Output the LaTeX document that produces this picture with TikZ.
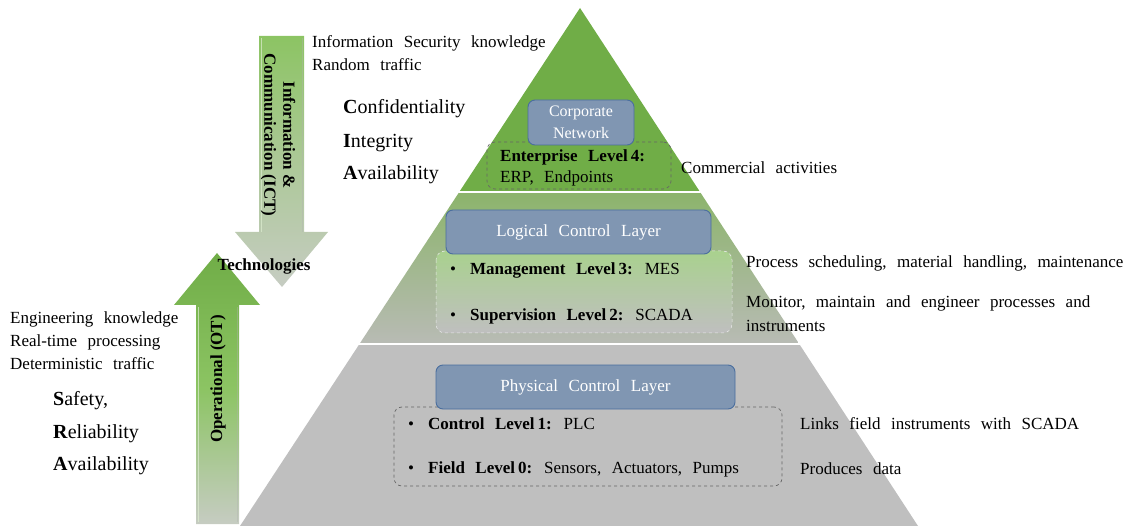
\documentclass[tikz,border=0pt]{standalone}
\usepackage{fontspec}
\setmainfont{Liberation Serif}
\usetikzlibrary{shapes.geometric}
\definecolor{topgreen}{HTML}{70AD47}
\definecolor{midgreen}{HTML}{8CB46C}
\definecolor{midgrey}{HTML}{B8BBB4}
\definecolor{botgrey}{HTML}{BFBFBF}
\definecolor{boxblue}{HTML}{8096B2}
\definecolor{boxborder}{HTML}{4A6E9E}
\definecolor{lightgreen}{HTML}{A9D18E}
\definecolor{arrowgreen}{HTML}{8CC463}
\definecolor{arrowgrey}{HTML}{C6CCC2}
\definecolor{dashgrey}{HTML}{666666}
\newcommand{\widesp}{\spaceskip=10.5pt plus 2pt minus 1pt\relax}
\begin{document}
\begin{tikzpicture}[x=1pt,y=1pt,
  txt/.style={font=\fontsize{17}{20}\selectfont\widesp, inner sep=0pt, anchor=west},
  big/.style={font=\fontsize{20}{24}\selectfont, inner sep=0pt, anchor=west},
  bluebox/.style={draw=boxborder, line width=0.9pt, fill=boxblue, rounded corners=7pt,
     text=white, font=\fontsize{17}{20}\selectfont\widesp, inner sep=0pt},
  dashbox/.style={draw=dashgrey, dashed, line width=0.7pt, rounded corners=8pt, inner sep=0pt},
  arrowtxt/.style={font=\bfseries\fontsize{17}{19}\selectfont, inner sep=0pt, align=center}
]
\useasboundingbox (0,0) rectangle (1137,-526);
% pyramid
\fill[topgreen] (580,-8) -- (699.4,-191) -- (459.9,-191) -- cycle;
\shade[top color=midgreen, bottom color=midgrey] (458.6,-193) -- (700.7,-193) -- (798.6,-343) -- (360.1,-343) -- cycle;
\fill[botgrey] (358.8,-345) -- (799.9,-345) -- (918,-526) -- (240,-526) -- cycle;
% top layer
\node[dashbox, minimum width=184, minimum height=47] (ent) at (579,-165.5) {};
\node[bluebox, minimum width=106, minimum height=45, align=center, font=\fontsize{16}{22}\selectfont] (corp) at (581,-122.5) {Corporate\\Network};
\node[txt] (ent1) at (500,-157) {\textbf{Enterprise Level\hspace{3pt}4:}};
\node[txt] (ent2) at (500,-178) {ERP, Endpoints};
% middle layer
\shade[top color=lightgreen, bottom color=botgrey, rounded corners=9pt, draw=white!85!gray, dashed, line width=0.5pt] (436,-251) rectangle (732,-333);
\node[inner sep=0pt, minimum width=296, minimum height=82] (mgmt) at (584,-292) {};
\node[bluebox, minimum width=265, minimum height=44] (logical) at (578.5,-232) {Logical Control Layer};
\node[txt] (l3) at (450,-270) {\textbullet\hspace{14pt}\textbf{Management Level\hspace{3pt}3:} MES};
\node[txt] (l2) at (450,-316) {\textbullet\hspace{14pt}\textbf{Supervision Level\hspace{3pt}2:} SCADA};
% bottom layer
\node[dashbox, minimum width=388, minimum height=79] (phys) at (588,-446.5) {};
\node[bluebox, minimum width=299, minimum height=44] (physical) at (585.5,-387) {Physical Control Layer};
\node[txt] (l1) at (408,-424) {\textbullet\hspace{14pt}\textbf{Control Level\hspace{3pt}1:} PLC};
\node[txt] (l0) at (408,-469) {\textbullet\hspace{14pt}\textbf{Field Level\hspace{3pt}0:} Sensors, Actuators, Pumps};
% separators
\draw[white, line width=2pt] (459.2,-192) -- (700.1,-192);
\draw[white, line width=2pt] (359.4,-344) -- (799.3,-344);
% right texts
\node[txt] (r4) at (681,-168) {Commercial activities};
\node[txt] (r3) at (746,-263) {Process scheduling, material handling, maintenance};
\node[txt, align=left, font=\fontsize{17}{24}\selectfont\widesp] (r2) at (746,-314) {Monitor, maintain and engineer processes and\\instruments};
\node[txt] (r1) at (800,-424) {Links field instruments with SCADA};
\node[txt] (r0) at (800,-469) {Produces data};
% ICT arrow
\shade[top color=arrowgreen, bottom color=arrowgrey, middle color=arrowgreen!45!arrowgrey]
  (259,-36) -- (304,-36) -- (304,-232) -- (328,-232) -- (282,-287) -- (235,-232) -- (259,-232) -- cycle;
\draw[white!70!arrowgreen, line width=1pt, opacity=0.7] (261,-38) -- (261,-232);
\draw[black!30, line width=1pt, opacity=0.4] (302,-38) -- (302,-232);
\node[arrowtxt, rotate=-90] (ict) at (278,-135) {Information \&\\Communication (ICT)};
% OT arrow
\shade[top color=topgreen, bottom color=arrowgrey, middle color=arrowgreen]
  (217,-253) -- (260,-305) -- (239,-305) -- (239,-524) -- (196,-524) -- (196,-305) -- (174,-305) -- cycle;
\draw[white!70!arrowgreen, line width=1pt, opacity=0.7] (198,-307) -- (198,-522);
\draw[black!30, line width=1pt, opacity=0.4] (237,-307) -- (237,-522);
\node[arrowtxt, rotate=90] (ot) at (218,-379) {Operational (OT)};
\node[arrowtxt] (tech) at (264,-266) {Technologies};
% left texts top
\node[txt] (ict1) at (312,-43) {Information Security knowledge};
\node[txt] (ict2) at (312,-65) {Random traffic};
\node[big] (c) at (343,-109) {\textbf{C}onfidentiality};
\node[big] (i) at (343,-143) {\textbf{I}ntegrity};
\node[big] (a) at (343,-175) {\textbf{A}vailability};
% left texts bottom
\node[txt] (ot1) at (10,-319) {Engineering knowledge};
\node[txt] (ot2) at (10,-342) {Real-time processing};
\node[txt] (ot3) at (10,-364) {Deterministic traffic};
\node[big] (s) at (53,-401) {\textbf{S}afety,};
\node[big] (r) at (53,-434) {\textbf{R}eliability};
\node[big] (a2) at (53,-466) {\textbf{A}vailability};
\end{tikzpicture}
\end{document}
